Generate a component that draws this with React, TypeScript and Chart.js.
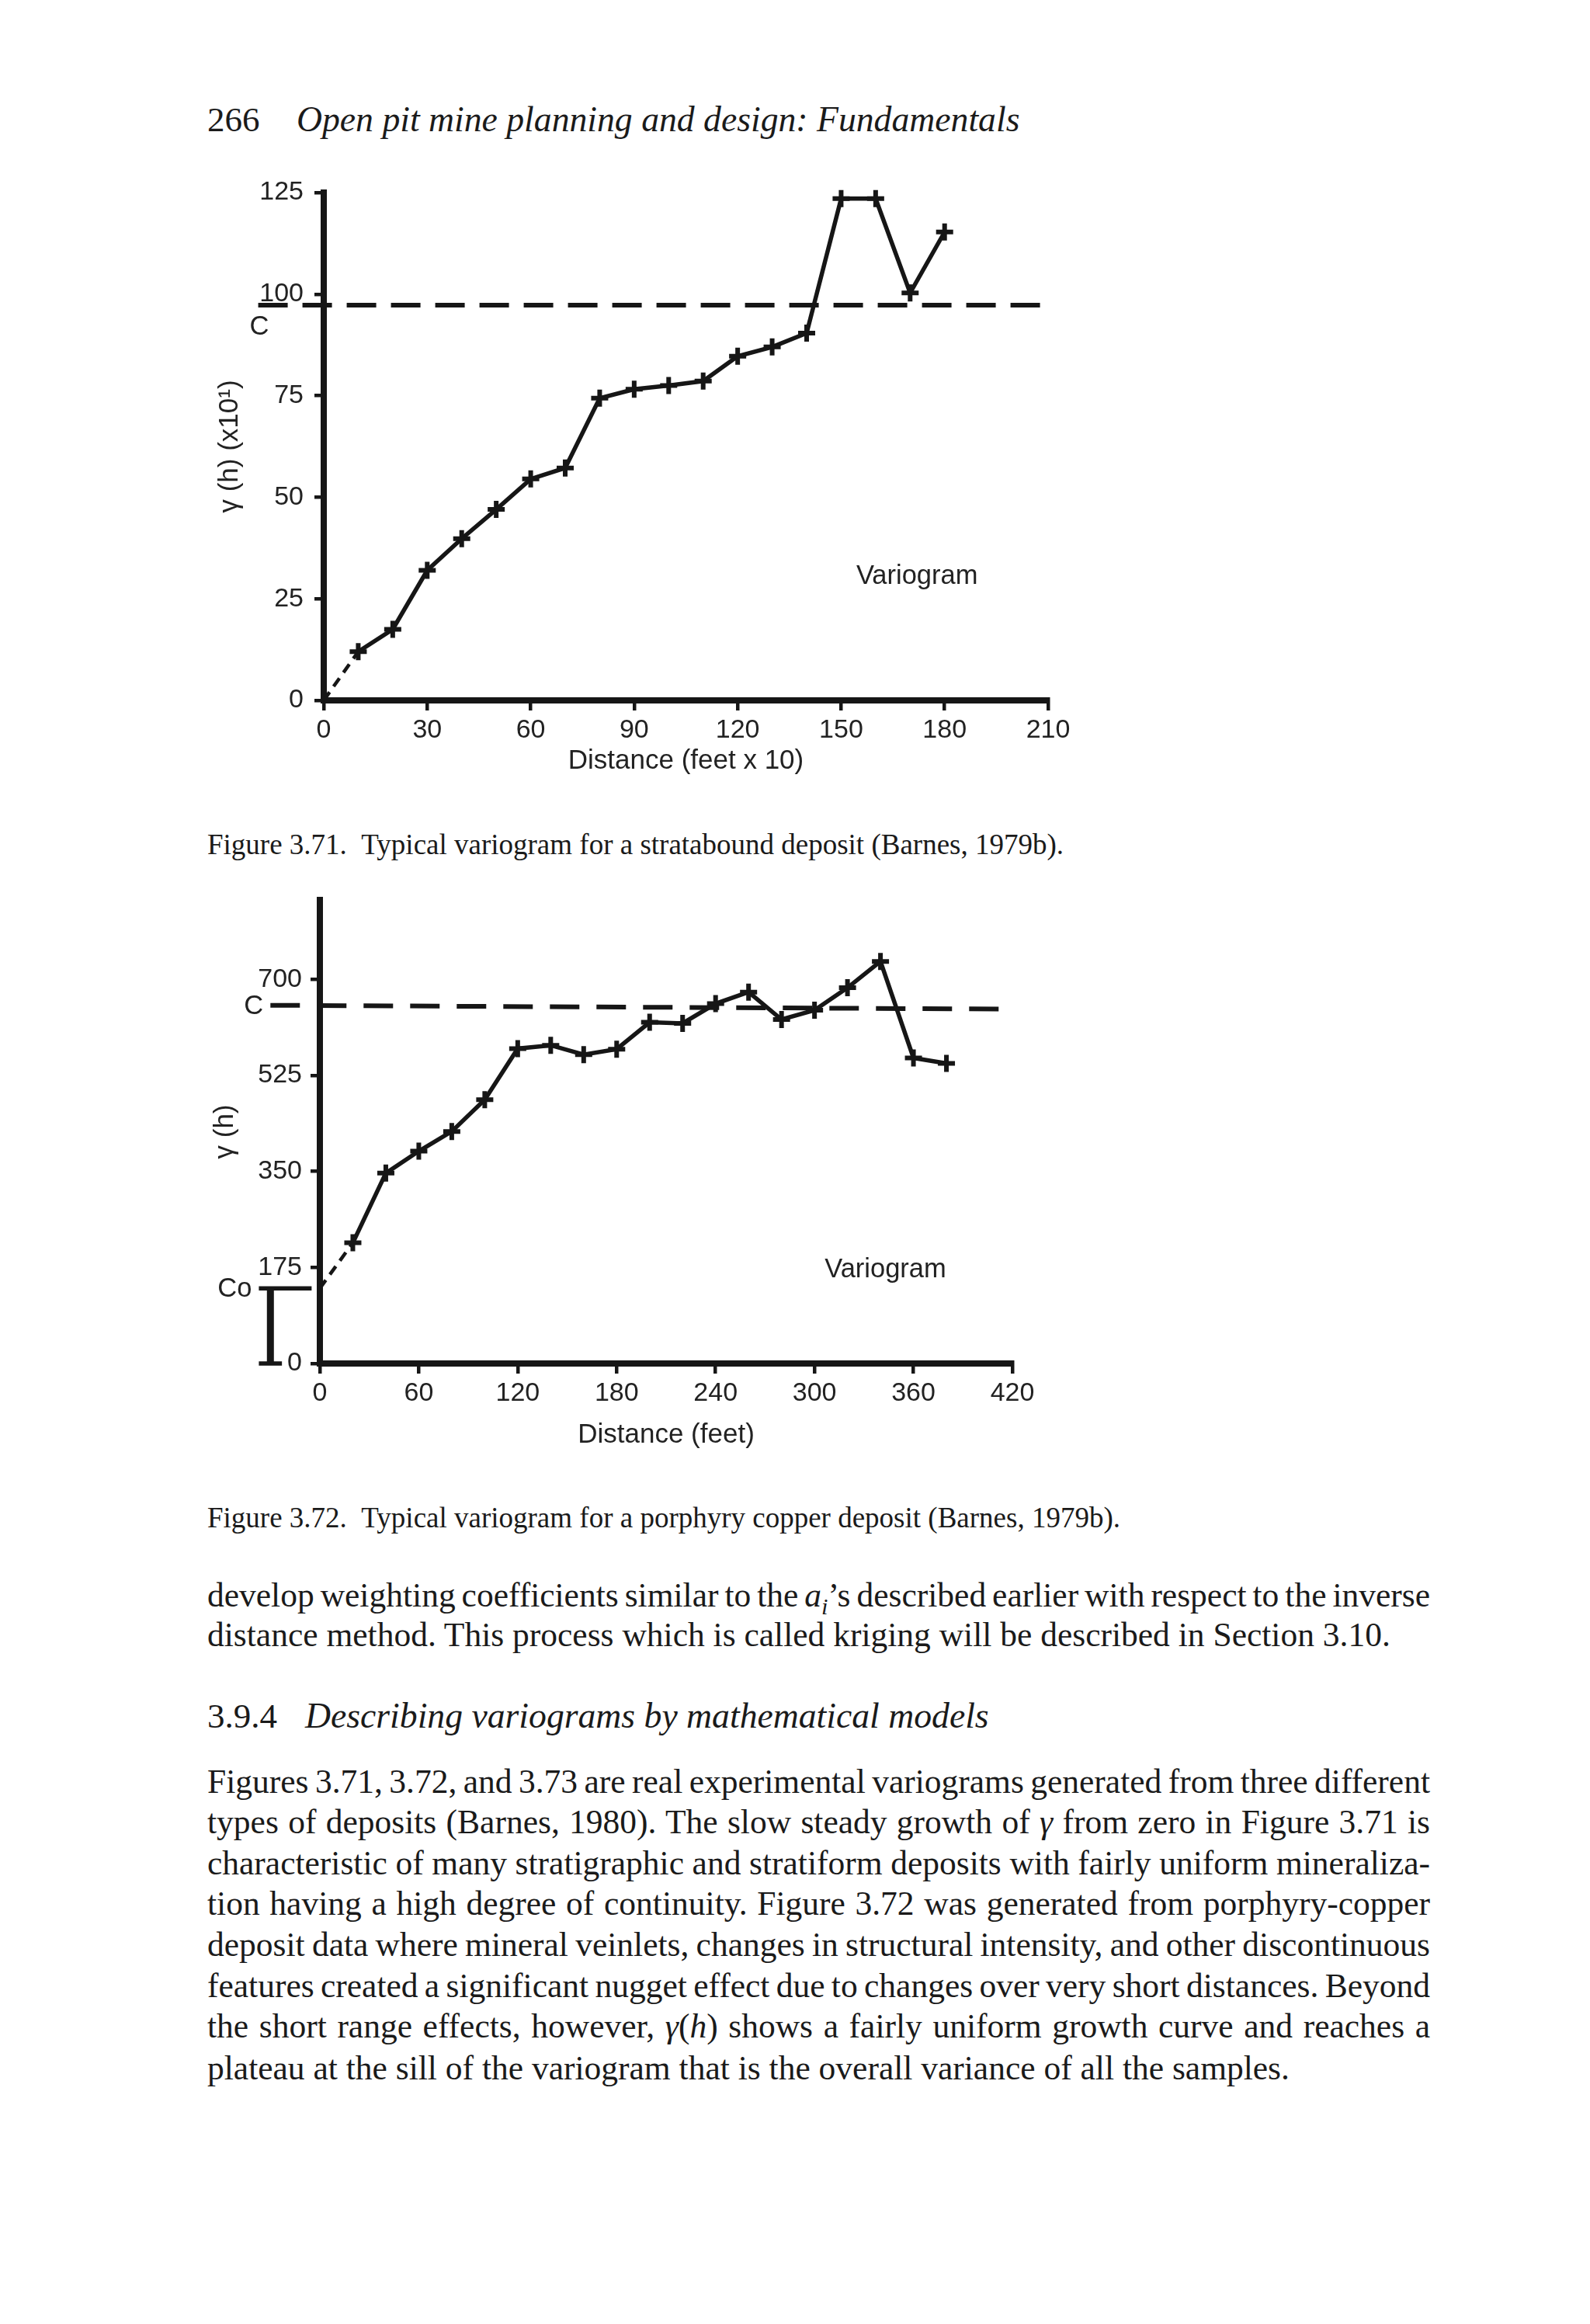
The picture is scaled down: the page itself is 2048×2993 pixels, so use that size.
import React, { useEffect, useLayoutEffect, useRef } from "react";
import { Chart, registerables } from "chart.js";

Chart.register(...registerables);

// ---------- Figure 3.71 data ----------
const fig1Distance = [10, 20, 30, 40, 50, 60, 70, 80, 90, 100, 110, 120, 130, 140, 150, 160, 170, 180];
const fig1Gamma = [12.0, 17.5, 32.0, 39.8, 47.0, 54.5, 57.2, 74.4, 76.6, 77.5, 78.6, 84.7, 87.0, 90.4, 123.5, 123.5, 100.3, 115.3];
const fig1NuggetDistance = [0, 10];
const fig1NuggetGamma = [0, 12.0];
const fig1SillDistance = [-19, 211];
const fig1SillGamma = [97.3, 97.3];
const fig1XTicks = [0, 30, 60, 90, 120, 150, 180, 210];
const fig1YTicks = [0, 25, 50, 75, 100, 125];

// ---------- Figure 3.72 data ----------
const fig2Distance = [20, 40, 60, 80, 100, 120, 140, 160, 180, 200, 220, 240, 260, 280, 300, 320, 340, 360, 380];
const fig2Gamma = [220, 347, 387, 423, 481, 574, 580, 563, 573, 622, 620, 656, 677, 627, 644, 685, 733, 557, 547];
const fig2NuggetDistance = [0, 20];
const fig2NuggetGamma = [137, 220];
const fig2SillDistance = [-30, 420];
const fig2SillGamma = [653, 646];
const fig2CoDistance = [-37, -5];
const fig2CoGamma = [137, 137];
const fig2BarDistance = [-30, -30];
const fig2BarGamma = [0, 137];
const fig2CapDistance = [-37, -23];
const fig2CapGamma = [0, 0];
const fig2XTicks = [0, 60, 120, 180, 240, 300, 360, 420];
const fig2YTicks = [0, 175, 350, 525, 700];

const FONT = '"Liberation Sans", Arial, Helvetica, sans-serif';
const SERIF = '"Liberation Serif", "Times New Roman", Times, serif';
const INK = "#161616";

const zip = (xs: number[], ys: number[]) => xs.map((x, i) => ({ x, y: ys[i] }));

type Label = { text: string; x: number; y: number; align: CanvasTextAlign };

const fig1Labels: Label[] = [
  { text: "Variogram", x: 172, y: 30.4, align: "center" },
  { text: "C", x: -21.5, y: 91.8, align: "left" },
];
const fig2Labels: Label[] = [
  { text: "Variogram", x: 343, y: 170, align: "center" },
  { text: "C", x: -46, y: 650, align: "left" },
  { text: "Co", x: -62, y: 135, align: "left" },
];

function labelPlugin(labels: Label[]) {
  return {
    id: "textLabels",
    afterDatasetsDraw(chart: any) {
      const { ctx, scales } = chart;
      ctx.save();
      ctx.font = `34.5px ${FONT}`;
      ctx.fillStyle = "#222";
      ctx.textBaseline = "middle";
      labels.forEach((l) => {
        ctx.textAlign = l.align;
        ctx.fillText(l.text, scales.x.getPixelForValue(l.x), scales.y.getPixelForValue(l.y));
      });
      ctx.restore();
    },
  };
}

function lineDs(data: any[], width: number, dash: number[] = [], extra: any = {}) {
  return {
    data,
    showLine: true,
    borderColor: INK,
    backgroundColor: INK,
    borderWidth: width,
    borderDash: dash,
    pointRadius: 0,
    clip: false,
    tension: 0,
    ...extra,
  };
}

function seriesDs(data: any[]) {
  return lineDs(data, 5.5, [], {
    pointStyle: "cross",
    pointRadius: 11,
    pointBorderWidth: 6,
    pointBorderColor: INK,
    pointBackgroundColor: INK,
  });
}

function makeScales(opts: {
  xMax: number; xTicks: number[]; xTitle: string;
  yMax: number; yTicks: number[]; yTitle: string;
  yWidth: number; xHeight: number; yTitlePad: number; xTitlePad: number; yTickPad: number;
}) {
  const tickFont = { family: FONT, size: 34 };
  const titleFont = { family: FONT, size: 35 };
  return {
    x: {
      type: "linear",
      min: 0,
      max: opts.xMax,
      afterBuildTicks: (s: any) => { s.ticks = opts.xTicks.map((v) => ({ value: v })); },
      ticks: { font: tickFont, color: "#222", padding: 5, maxRotation: 0, autoSkip: false },
      grid: { drawOnChartArea: false, drawTicks: true, tickLength: 13, color: INK, lineWidth: 4.5 },
      border: { display: true, color: INK, width: 8 },
      title: { display: true, text: opts.xTitle, font: titleFont, color: "#222", padding: { top: 0, bottom: opts.xTitlePad } },
      afterFit: (s: any) => { s.height = opts.xHeight; },
    },
    y: {
      type: "linear",
      min: 0,
      max: opts.yMax,
      afterBuildTicks: (s: any) => { s.ticks = opts.yTicks.map((v) => ({ value: v })); },
      ticks: { font: tickFont, color: "#222", padding: opts.yTickPad, autoSkip: false },
      grid: { drawOnChartArea: false, drawTicks: true, tickLength: 12, color: INK, lineWidth: 4.5 },
      border: { display: true, color: INK, width: 8 },
      title: { display: true, text: opts.yTitle, font: titleFont, color: "#222", padding: { top: opts.yTitlePad, bottom: 0 } },
      afterFit: (s: any) => { s.width = opts.yWidth; },
    },
  };
}

function fig1Config() {
  return {
    type: "scatter",
    data: {
      datasets: [
        lineDs(zip(fig1SillDistance, fig1SillGamma), 6, [38, 19]),
        lineDs(zip(fig1NuggetDistance, fig1NuggetGamma), 4.5, [13, 9]),
        seriesDs(zip(fig1Distance, fig1Gamma)),
      ],
    },
    options: {
      animation: false,
      responsive: false,
      devicePixelRatio: 1,
      layout: { padding: { top: 46, right: 50, left: 0, bottom: 0 } },
      plugins: { legend: { display: false }, tooltip: { enabled: false } },
      scales: makeScales({
        xMax: 210, xTicks: fig1XTicks, xTitle: "Distance (feet x 10)",
        yMax: 125, yTicks: fig1YTicks, yTitle: "γ (h) (x10¹)",
        yWidth: 167, xHeight: 118, yTitlePad: 25, xTitlePad: 19, yTickPad: 14,
      }),
    },
    plugins: [labelPlugin(fig1Labels)],
  };
}

function fig2Config() {
  return {
    type: "scatter",
    data: {
      datasets: [
        lineDs(zip(fig2SillDistance, fig2SillGamma), 6, [38, 22]),
        lineDs(zip(fig2CoDistance, fig2CoGamma), 5.5),
        lineDs(zip(fig2BarDistance, fig2BarGamma), 9),
        lineDs(zip(fig2CapDistance, fig2CapGamma), 5.5),
        lineDs(zip(fig2NuggetDistance, fig2NuggetGamma), 4.5, [13, 9]),
        seriesDs(zip(fig2Distance, fig2Gamma)),
      ],
    },
    options: {
      animation: false,
      responsive: false,
      devicePixelRatio: 1,
      layout: { padding: { top: 49, right: 46, left: 0, bottom: 0 } },
      plugins: { legend: { display: false }, tooltip: { enabled: false } },
      scales: makeScales({
        xMax: 420, xTicks: fig2XTicks, xTitle: "Distance (feet)",
        yMax: 845, yTicks: fig2YTicks, yTitle: "γ (h)",
        yWidth: 162, xHeight: 124, yTitlePad: 19, xTitlePad: 11, yTickPad: 11,
      }),
    },
    plugins: [labelPlugin(fig2Labels)],
  };
}

function ChartCanvas({ build, left, top, width, height }: any) {
  const ref = useRef<HTMLCanvasElement | null>(null);
  useEffect(() => {
    const chart = new Chart(ref.current as HTMLCanvasElement, build());
    return () => chart.destroy();
  }, []);
  return (
    <canvas
      ref={ref}
      width={width}
      height={height}
      style={{ position: "absolute", left, top, width, height }}
    />
  );
}

const LEFT = 267;
const TEXT_W = 1575;
const BODY_SIZE = 43.5;
const LH = 52;

function baseStyle(center: number, size: number, left: number, italic: boolean): any {
  return {
    position: "absolute",
    left,
    top: center - LH / 2 - 2,
    whiteSpace: "nowrap",
    fontFamily: SERIF,
    fontSize: size,
    lineHeight: `${LH}px`,
    fontStyle: italic ? "italic" : "normal",
    color: "#1a1a1a",
  };
}

function Line({ center, size = BODY_SIZE, children, left = LEFT, italic = false }: any) {
  return <div style={baseStyle(center, size, left, italic)}>{children}</div>;
}

// A single justified line: word spacing is stretched so the line spans the text width.
function JLine({ center, children }: any) {
  const ref = useRef<HTMLSpanElement | null>(null);
  useLayoutEffect(() => {
    const el = ref.current;
    if (!el) return;
    const fit = () => {
      el.style.wordSpacing = "0px";
      const w = el.getBoundingClientRect().width;
      const n = ((el.textContent || "").match(/ /g) || []).length;
      if (n > 0) el.style.wordSpacing = `${(TEXT_W - w) / n}px`;
    };
    fit();
    const fonts = (document as any).fonts;
    if (fonts && fonts.ready) fonts.ready.then(fit);
  }, []);
  return (
    <div style={baseStyle(center, BODY_SIZE, LEFT, false)}>
      <span ref={ref} style={{ display: "inline-block", whiteSpace: "nowrap" }}>{children}</span>
    </div>
  );
}

const g = <i>γ</i>;

export default function App() {
  return (
    <div style={{ position: "absolute", left: 0, top: 0, width: 2048, height: 2993, background: "#fff", overflow: "hidden" }}>
      <Line center={156} size={45}>266</Line>
      <Line center={156} size={45.7} left={382} italic>Open pit mine planning and design: Fundamentals</Line>

      <ChartCanvas build={fig1Config} left={250} top={202} width={1150} height={818} />
      <Line center={1090} size={37}>Figure 3.71.&nbsp;&nbsp;Typical variogram for a stratabound deposit (Barnes, 1979b).</Line>

      <ChartCanvas build={fig2Config} left={250} top={1110} width={1100} height={770} />
      <Line center={1957} size={37}>Figure 3.72.&nbsp;&nbsp;Typical variogram for a porphyry copper deposit (Barnes, 1979b).</Line>

      <JLine center={2056}>
        develop weighting coefficients similar to the <i>a</i><sub style={{ fontSize: "0.7em", lineHeight: 0 }}><i>i</i></sub>’s described earlier with respect to the inverse
      </JLine>
      <Line center={2107}>distance method. This process which is called kriging will be described in Section 3.10.</Line>

      <Line center={2212} size={45}>3.9.4</Line>
      <Line center={2212} size={45.7} left={393} italic>Describing variograms by mathematical models</Line>

      <JLine center={2296}>Figures 3.71, 3.72, and 3.73 are real experimental variograms generated from three different</JLine>
      <JLine center={2348}>types of deposits (Barnes, 1980). The slow steady growth of {g} from zero in Figure 3.71 is</JLine>
      <JLine center={2401}>characteristic of many stratigraphic and stratiform deposits with fairly uniform mineraliza-</JLine>
      <JLine center={2453}>tion having a high degree of continuity. Figure 3.72 was generated from porphyry-copper</JLine>
      <JLine center={2506}>deposit data where mineral veinlets, changes in structural intensity, and other discontinuous</JLine>
      <JLine center={2559}>features created a significant nugget effect due to changes over very short distances. Beyond</JLine>
      <JLine center={2611}>the short range effects, however, {g}(<i>h</i>) shows a fairly uniform growth curve and reaches a</JLine>
      <Line center={2665}>plateau at the sill of the variogram that is the overall variance of all the samples.</Line>
    </div>
  );
}
